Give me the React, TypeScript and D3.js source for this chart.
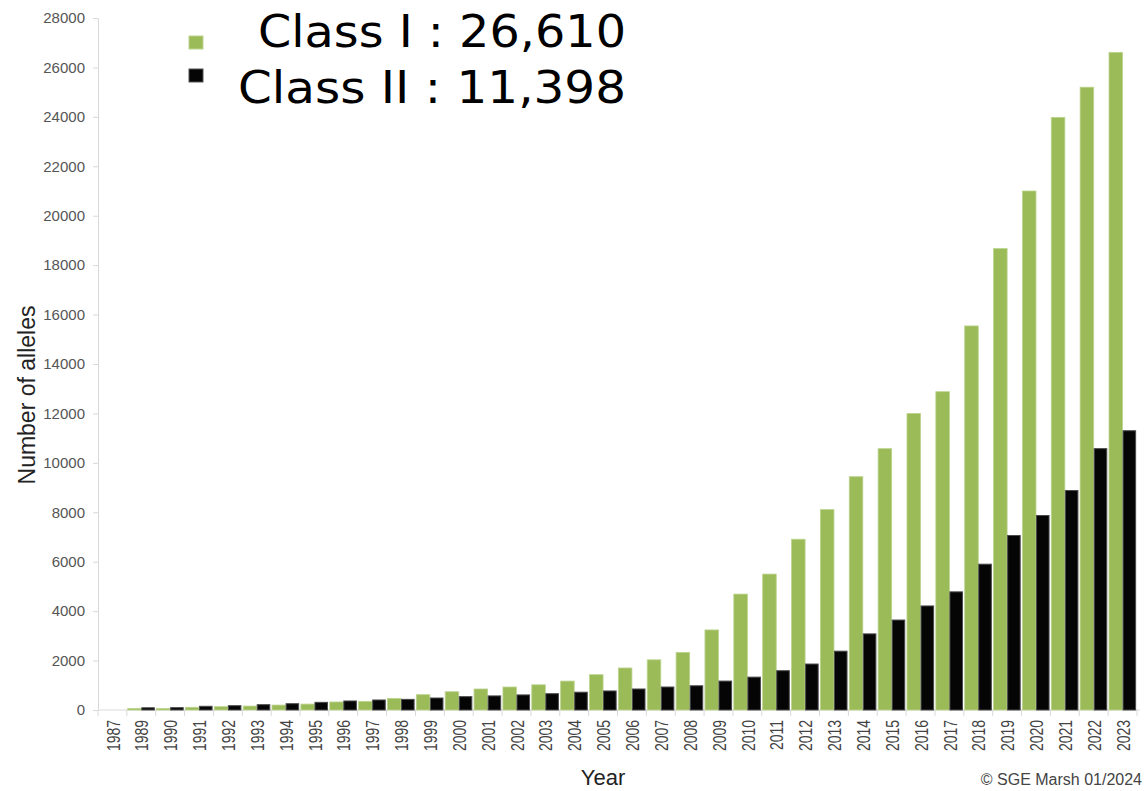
import React, { useEffect, useRef } from "react";
import * as d3 from "d3";

const years = [
  "1987", "1989", "1990", "1991", "1992", "1993", "1994", "1995", "1996",
  "1997", "1998", "1999", "2000", "2001", "2002", "2003", "2004", "2005",
  "2006", "2007", "2008", "2009", "2010", "2011", "2012", "2013", "2014",
  "2015", "2016", "2017", "2018", "2019", "2020", "2021", "2022", "2023",
];

const classI = [
  0, 60, 60, 110, 135, 160, 200, 240, 325, 350, 470, 620, 740, 850, 930, 1020,
  1170, 1430, 1700, 2030, 2330, 3240, 4690, 5500, 6910, 8110, 9440, 10575,
  12000, 12880, 15540, 18670, 21000, 23980, 25200, 26610,
];

const classII = [
  0, 90, 95, 150, 175, 215, 255, 310, 365, 405, 430, 485, 540, 570, 610, 660,
  720, 770, 850, 930, 980, 1170, 1330, 1590, 1860, 2380, 3080, 3640, 4210,
  4780, 5900, 7060, 7870, 8880, 10575, 11300,
];

const yTicks = [
  0, 2000, 4000, 6000, 8000, 10000, 12000, 14000, 16000, 18000, 20000, 22000,
  24000, 26000, 28000,
];

const seriesKeys = ["I", "II"];
const legendLabels = ["Class I : 26,610", "Class II : 11,398"];

export default function App() {
  const ref = useRef<SVGSVGElement>(null);

  useEffect(() => {
    draw();
  }, []);

  const draw = () => {
    const svg = d3.select(ref.current);
    svg.selectAll("*").remove();

    const left = 98;
    const right = 1137;
    const top = 18;
    const bottom = 710;
    const axisColor = "#d9d9d9";
    const green = "#9bbb59";
    const sans = "'Liberation Sans', Arial, sans-serif";

    const x0 = d3
      .scaleBand()
      .domain(years)
      .range([left, right])
      .paddingInner(0.06)
      .paddingOuter(0.03);

    const x1 = d3
      .scaleBand()
      .domain(seriesKeys)
      .range([0, x0.bandwidth()]);

    const y = d3.scaleLinear().domain([0, 28000]).range([bottom, top]);

    // y axis
    const yAxis = svg
      .append("g")
      .attr("transform", `translate(${left}, 0)`)
      .call(
        d3
          .axisLeft(y)
          .tickValues(yTicks)
          .tickSize(5)
          .tickSizeOuter(0)
          .tickPadding(8)
          .tickFormat((d) => String(d))
      );
    yAxis.select(".domain").attr("stroke", axisColor);
    yAxis.selectAll(".tick line").attr("stroke", axisColor);
    yAxis
      .selectAll(".tick text")
      .attr("fill", "#555")
      .style("font-family", sans)
      .style("font-size", "15px");

    // x baseline + ticks at band boundaries
    const half = (x0.step() - x0.bandwidth()) / 2;
    svg
      .append("line")
      .attr("x1", left)
      .attr("x2", right + 3)
      .attr("y1", bottom)
      .attr("y2", bottom)
      .attr("stroke", axisColor);

    const bounds = years.map((d) => (x0(d) as number) - half);
    bounds.push((x0(years[years.length - 1]) as number) + x0.bandwidth() + half);
    svg
      .append("g")
      .selectAll("line")
      .data(bounds)
      .enter()
      .append("line")
      .attr("x1", (d) => d)
      .attr("x2", (d) => d)
      .attr("y1", bottom)
      .attr("y2", bottom + 6)
      .attr("stroke", axisColor);

    svg
      .append("g")
      .selectAll("text")
      .data(years)
      .enter()
      .append("text")
      .attr(
        "transform",
        (d) =>
          `translate(${(x0(d) as number) + x0.bandwidth() / 2 + 1}, 720) scale(1.25, 1) rotate(-90)`
      )
      .attr("text-anchor", "end")
      .attr("dy", "0.35em")
      .attr("fill", "#444")
      .style("font-family", sans)
      .style("font-size", "14px")
      .text((d) => d);

    // bars
    const groups = svg
      .append("g")
      .selectAll("g")
      .data(years)
      .enter()
      .append("g")
      .attr("transform", (d) => `translate(${x0(d)}, 0)`);

    groups
      .append("rect")
      .attr("x", x1("I") as number)
      .attr("y", (d, i) => y(classI[i]))
      .attr("width", x1.bandwidth())
      .attr("height", (d, i) => bottom - y(classI[i]))
      .attr("fill", green)
      .attr("stroke", "#bcd48e")
      .attr("stroke-width", 0.8)
      .attr("opacity", (d, i) => (classI[i] > 0 ? 1 : 0));

    groups
      .append("rect")
      .attr("x", (x1("II") as number) + 0.5)
      .attr("y", (d, i) => y(classII[i]))
      .attr("width", x1.bandwidth() - 1)
      .attr("height", (d, i) => bottom - y(classII[i]))
      .attr("fill", "#050505")
      .attr("stroke", "#4a4a4a")
      .attr("stroke-width", 1)
      .attr("opacity", (d, i) => (classII[i] > 0 ? 1 : 0));

    // axis titles
    svg
      .append("text")
      .attr("transform", "translate(27, 395) rotate(-90)")
      .attr("text-anchor", "middle")
      .attr("dy", "0.35em")
      .attr("fill", "#222")
      .style("font-family", sans)
      .style("font-size", "23px")
      .text("Number of alleles");

    svg
      .append("text")
      .attr("x", 603)
      .attr("y", 785)
      .attr("text-anchor", "middle")
      .attr("fill", "#222")
      .style("font-family", sans)
      .style("font-size", "22px")
      .text("Year");

    svg
      .append("text")
      .attr("x", 1142)
      .attr("y", 785)
      .attr("text-anchor", "end")
      .attr("fill", "#444")
      .style("font-family", sans)
      .style("font-size", "16px")
      .text("\u00a9 SGE Marsh 01/2024");

    // legend
    const legendColors = [green, "#050505"];
    const legendStroke = ["#bcd48e", "#555"];
    const legendWidths = [368, 388];
    const legend = svg
      .append("g")
      .selectAll("g")
      .data(legendLabels)
      .enter()
      .append("g");

    legend
      .append("rect")
      .attr("x", 189)
      .attr("y", (d, i) => 36 + i * 33)
      .attr("width", 14)
      .attr("height", 13)
      .attr("fill", (d, i) => legendColors[i])
      .attr("stroke", (d, i) => legendStroke[i]);

    legend
      .append("text")
      .attr("x", (d, i) => 626 - legendWidths[i])
      .attr("y", (d, i) => 47 + i * 56)
      .attr("textLength", (d, i) => legendWidths[i])
      .attr("lengthAdjust", "spacingAndGlyphs")
      .attr("fill", "#000")
      .style("font-family", "'DejaVu Sans', Verdana, sans-serif")
      .style("font-size", "45px")
      .text((d) => d);
  };

  return (
    <svg
      ref={ref}
      width={1145}
      height={791}
      style={{ position: "absolute", left: 0, top: 0, background: "#fff" }}
    />
  );
}
